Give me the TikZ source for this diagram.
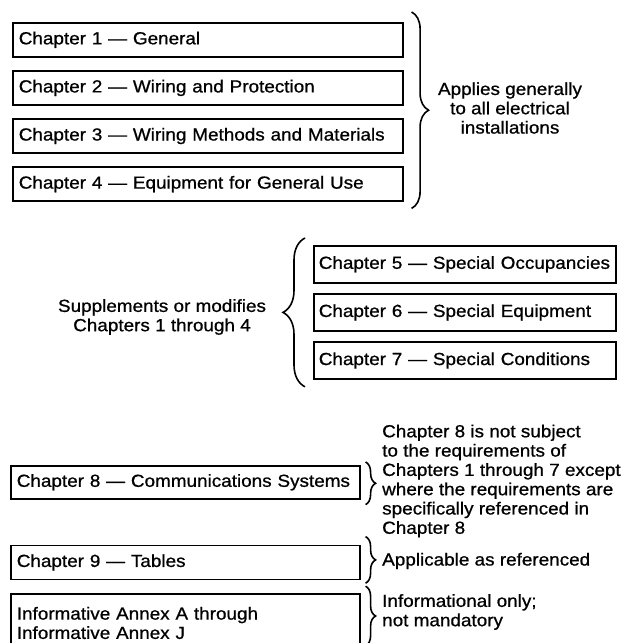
\documentclass[tikz,border=0pt]{standalone}
\usepackage{fontspec}
\setmainfont{Liberation Sans}[FakeStretch=1.08, FakeBold=0.8]
\usetikzlibrary{positioning, calc, decorations.pathreplacing}

\begin{document}
\begin{tikzpicture}[x=1pt, y=-1pt, node distance=12.5pt,
    font=\fontsize{17.5pt}{19.3pt}\selectfont,
    chapbox/.style={draw, line width=1.6pt, inner xsep=6pt, inner ysep=2pt,
        minimum height=34pt, align=left},
    note/.style={inner sep=0pt, align=left},
    grpbrace/.style={decorate, decoration={brace, amplitude=#1}, line width=1.6pt}]
  \clip (0,0) rectangle (628,643);

  % general chapters
  \node[chapbox, text width=378pt, anchor=north west] (ch1) at (12,22) {Chapter 1 --- General};
  \node[chapbox, text width=378pt] (ch2) [below=of ch1] {Chapter 2 --- Wiring and Protection};
  \node[chapbox, text width=378pt] (ch3) [below=of ch2] {Chapter 3 --- Wiring Methods and Materials};
  \node[chapbox, text width=378pt] (ch4) [below=of ch3] {Chapter 4 --- Equipment for General Use};

  \draw[grpbrace=17pt] ($(ch1.north east)+(8,-10)$) -- ($(ch4.south east)+(8,6.5)$);
  \node[note, align=center] (generalnote) at (510,108) {Applies generally\\to all electrical\\installations};

  % special chapters
  \node[chapbox, inner xsep=5pt, text width=292pt, minimum height=37pt, anchor=north west] (ch5) at (313,245) {Chapter 5 --- Special Occupancies};
  \node[chapbox, inner xsep=5pt, text width=292pt, minimum height=37pt] (ch6) [below=9.5pt of ch5] {Chapter 6 --- Special Equipment};
  \node[chapbox, inner xsep=5pt, text width=292pt, minimum height=37pt] (ch7) [below=9.5pt of ch6] {Chapter 7 --- Special Conditions};

  \draw[grpbrace=22pt] ($(ch7.south west)+(-8,7)$) -- ($(ch5.north west)+(-8,-7)$);
  \node[note, align=center] (supplnote) at (162,317) {Supplements or modifies\\Chapters 1 through 4};

  % chapter 8, chapter 9 and annexes
  \node[chapbox, text width=337pt, minimum height=33pt, anchor=north west] (ch8) at (10,465) {Chapter 8 --- Communications Systems};
  \node[chapbox, text width=337pt] (ch9) [below=45pt of ch8] {Chapter 9 --- Tables};
  \node[chapbox, text width=337pt, minimum height=58pt] (annex) [below=13pt of ch9] {Informative Annex A through\\Informative Annex J};

  \draw[grpbrace=10pt] ($(ch8.north east)+(5,-3)$) -- ($(ch8.south east)+(5,5)$);
  \draw[grpbrace=10pt] ($(ch9.north east)+(5,-8)$) -- ($(ch9.south east)+(5,3)$);
  \draw[grpbrace=10pt] ($(annex.north east)+(5,-7)$) -- ($(annex.south east)+(5,-7)$);

  \node[note, anchor=west] (commnote) at (382,481) {Chapter 8 is not subject\\to the requirements of\\Chapters 1 through 7 except\\where the requirements are\\specifically referenced in\\Chapter 8};
  \node[note, anchor=west] (tablenote) at (382,561) {Applicable as referenced};
  \node[note, anchor=west] (annexnote) at (382,612) {Informational only;\\not mandatory};
\end{tikzpicture}
\end{document}
